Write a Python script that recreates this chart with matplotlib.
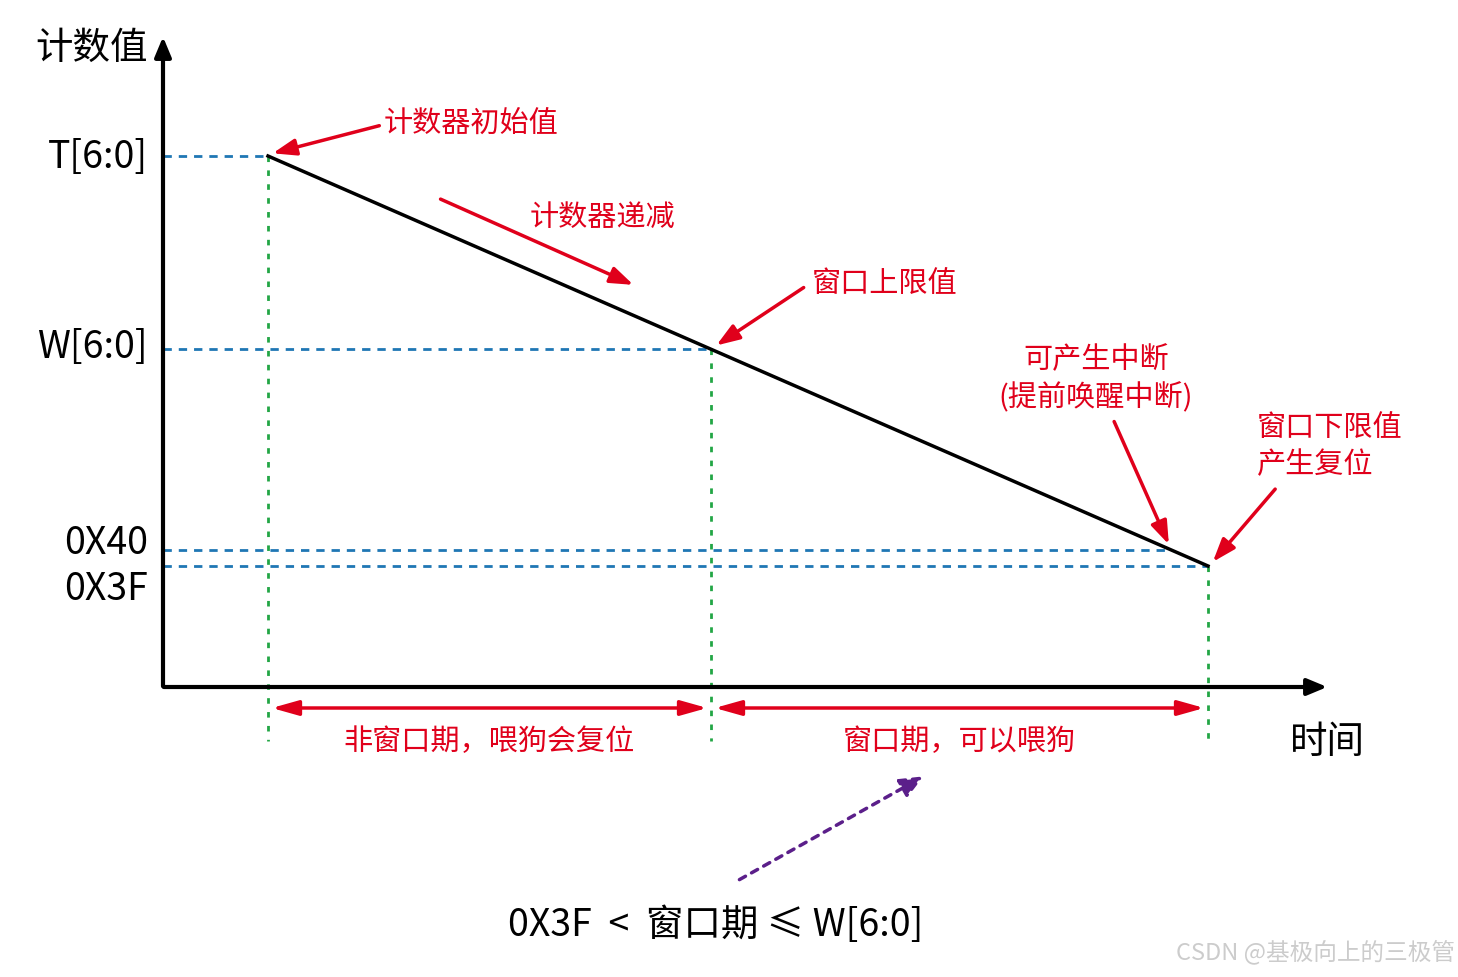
import matplotlib.pyplot as plt

plt.rcParams['font.family'] = ['Noto Sans CJK SC', 'DejaVu Sans']

# diagram in pixel units (y grows downward)
origin = (163, 688)
x_axis_end = 1330
y_axis_top = 35
level_names = ['T[6:0]', 'W[6:0]', '0X40', '0X3F']
level_y = [157, 350, 551, 567]
level_label_y = [157, 348, 543, 590]
point_x = [268, 711, 1172, 1208]
counter_x = [268, 1208]
counter_y = [157, 567]
green_x = [268, 711, 1208]
green_top = [157, 350, 567]
green_bottom = 742

red = '#e0001b'
blue = '#1f77b4'
green = '#22a645'

fig = plt.figure(figsize=(14.58, 9.78), dpi=100)
ax = fig.add_axes([0, 0, 1, 1])
ax.set_xlim(0, 1458)
ax.set_ylim(978, 0)
ax.axis('off')

# axes arrows
ax.annotate('', xy=(x_axis_end, origin[1]), xytext=(origin[0] - 2, origin[1]),
            arrowprops=dict(arrowstyle='-|>,head_length=1.2,head_width=0.5', color='black', lw=3))
ax.annotate('', xy=(origin[0], y_axis_top), xytext=(origin[0], origin[1] + 2),
            arrowprops=dict(arrowstyle='-|>,head_length=1.2,head_width=0.5', color='black', lw=3))
ax.text(148, 48, '计数值', fontsize=27, ha='right', va='center')
ax.text(1290, 742, '时间', fontsize=27, ha='left', va='center')

# level lines
for name, y, ly, px in zip(level_names, level_y, level_label_y, point_x):
    ax.plot([origin[0], px], [y, y], color=blue, lw=2, ls=(0, (3, 2.5)))
    ax.text(148, ly, name, fontsize=27, ha='right', va='center')

for gx, gt in zip(green_x, green_top):
    ax.plot([gx, gx], [gt, green_bottom], color=green, lw=2, ls=(0, (2, 3)))

ax.plot(counter_x, counter_y, color='black', lw=2.5)

def red_arrow(x0, y0, x1, y1):
    ax.annotate('', xy=(x1, y1), xytext=(x0, y0),
                arrowprops=dict(arrowstyle='-|>,head_length=1.4,head_width=0.5', color=red, lw=2.5))

red_arrow(382, 126, 270, 155)
red_arrow(438, 199, 636, 287)
red_arrow(806, 287, 714, 348)
red_arrow(1113, 420, 1170, 548)
red_arrow(1277, 488, 1211, 565)

rt = dict(color=red, fontsize=21, va='center')
ax.text(384, 124, '计数器初始值', **rt)
ax.text(530, 218, '计数器递减', **rt)
ax.text(812, 284, '窗口上限值', **rt)
ax.text(1096, 360, '可产生中断', ha='center', **rt)
ax.text(1096, 398, '(提前唤醒中断)', ha='center', **rt)
ax.text(1257, 428, '窗口下限值', **rt)
ax.text(1257, 465, '产生复位', **rt)

# period arrows
for a, b in [(268, 711), (711, 1208)]:
    ax.annotate('', xy=(b - 1, 709), xytext=(a + 1, 709),
                arrowprops=dict(arrowstyle='<|-|>,head_length=1.6,head_width=0.45', color=red, lw=2.5))
ax.text(489, 742, '非窗口期，喂狗会复位', ha='center', **rt)
ax.text(959, 742, '窗口期，可以喂狗', ha='center', **rt)

ax.annotate('', xy=(926, 776), xytext=(737, 882),
            arrowprops=dict(arrowstyle='-|>,head_length=1.4,head_width=0.6', color='#5b1f8a',
                            lw=2.5, ls=(0, (2, 2))))
ax.text(716, 926, '0X3F  <  窗口期 ≤ W[6:0]', fontsize=27, ha='center', va='center')
ax.text(1455, 952, 'CSDN @基极向上的三极管', fontsize=17, color='#cccccc', ha='right', va='center')

fig.savefig('out.png', dpi=100)
